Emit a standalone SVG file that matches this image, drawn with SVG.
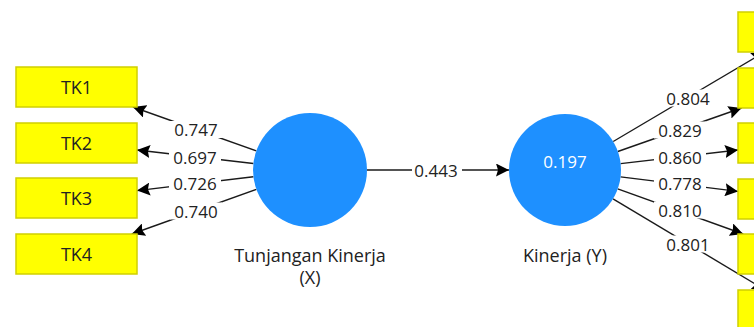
<svg xmlns="http://www.w3.org/2000/svg" width="754" height="327" viewBox="0 0 754 327">
<defs>
<marker id="ah" markerUnits="userSpaceOnUse" markerWidth="14" markerHeight="13" refX="13" refY="6.5" orient="auto">
<path d="M0,0 L13,6.5 L0,13 L2,6.5 z" fill="#000"/>
</marker>
<style>
.box{fill:#FFFF00;stroke:#D0D000;stroke-width:1.5}
.lv{fill:#1E90FF}
.t{font-family:"Open Sans","Noto Sans",sans-serif;font-size:17px;fill:#222;text-anchor:middle}
.n{font-size:18px}
.w{fill:#fff}
.ln{stroke:#1a1a1a;stroke-width:1.4;fill:none;marker-end:url(#ah)}
.bg{fill:#fff}
</style>
</defs>
<rect width="754" height="327" fill="#fff"/>
<g id="connectors">
<line class="ln" x1="256.3" y1="150.9" x2="132.9" y2="107"/>
<line class="ln" x1="253.4" y1="163.5" x2="137" y2="150"/>
<line class="ln" x1="253.4" y1="176.8" x2="137" y2="190.6"/>
<line class="ln" x1="256.4" y1="189.3" x2="131.8" y2="234"/>
<line class="ln" x1="367" y1="170" x2="509" y2="170"/>
<line class="ln" x1="613.2" y1="141.5" x2="764.6" y2="52"/>
<line class="ln" x1="617.8" y1="151.5" x2="741.6" y2="108"/>
<line class="ln" x1="620.6" y1="163.6" x2="738" y2="150"/>
<line class="ln" x1="620.6" y1="176.9" x2="738" y2="191.4"/>
<line class="ln" x1="617.7" y1="188.9" x2="743.2" y2="234"/>
<line class="ln" x1="613" y1="198.8" x2="765.3" y2="290"/>
<g id="labels">
<rect class="bg" x="170" y="121" width="52" height="17"/><text class="t" x="196" y="136">0.747</text>
<rect class="bg" x="169" y="148.5" width="52" height="17"/><text class="t" x="195" y="163.5">0.697</text>
<rect class="bg" x="169" y="174.5" width="52" height="17"/><text class="t" x="195" y="189.5">0.726</text>
<rect class="bg" x="170" y="202.5" width="52" height="17"/><text class="t" x="196" y="217.5">0.740</text>
<rect class="bg" x="412" y="161.5" width="50" height="17"/><text class="t" x="436" y="176.5">0.443</text>
<rect class="bg" x="662" y="89.5" width="52" height="17"/><text class="t" x="688" y="104.5">0.804</text>
<rect class="bg" x="654" y="121.5" width="52" height="17"/><text class="t" x="680" y="136.5">0.829</text>
<rect class="bg" x="654" y="148.5" width="52" height="17"/><text class="t" x="680" y="163.5">0.860</text>
<rect class="bg" x="654" y="174.5" width="52" height="17"/><text class="t" x="680" y="189.5">0.778</text>
<rect class="bg" x="654" y="201.5" width="52" height="17"/><text class="t" x="680" y="216.5">0.810</text>
<rect class="bg" x="662" y="235.5" width="52" height="17"/><text class="t" x="688" y="250.5">0.801</text>
</g>
</g>
<g id="TK1"><rect class="box" x="16" y="67" width="121" height="40"/><text class="t n" x="76.5" y="93.5">TK1</text></g>
<g id="TK2"><rect class="box" x="16" y="123" width="121" height="40"/><text class="t n" x="76.5" y="149.5">TK2</text></g>
<g id="TK3"><rect class="box" x="16" y="178" width="121" height="40"/><text class="t n" x="76.5" y="204.5">TK3</text></g>
<g id="TK4"><rect class="box" x="16" y="234" width="121" height="40"/><text class="t n" x="76.5" y="260.5">TK4</text></g>
<g id="Y1"><rect class="box" x="738" y="12" width="121" height="40"/></g>
<g id="Y2"><rect class="box" x="738" y="68" width="121" height="40"/></g>
<g id="Y3"><rect class="box" x="738" y="123" width="121" height="40"/></g>
<g id="Y4"><rect class="box" x="738" y="179" width="121" height="40"/></g>
<g id="Y5"><rect class="box" x="738" y="234" width="121" height="40"/></g>
<g id="Y6"><rect class="box" x="738" y="290" width="121" height="40"/></g>
<g id="X"><circle class="lv" cx="310" cy="170" r="57"/><text class="t n" x="310" y="262">Tunjangan Kinerja</text><text class="t n" x="310" y="284">(X)</text></g>
<g id="Y"><circle class="lv" cx="565" cy="170" r="56"/><text class="t w" x="565" y="168">0.197</text><text class="t n" x="565" y="262">Kinerja (Y)</text></g>
</svg>
